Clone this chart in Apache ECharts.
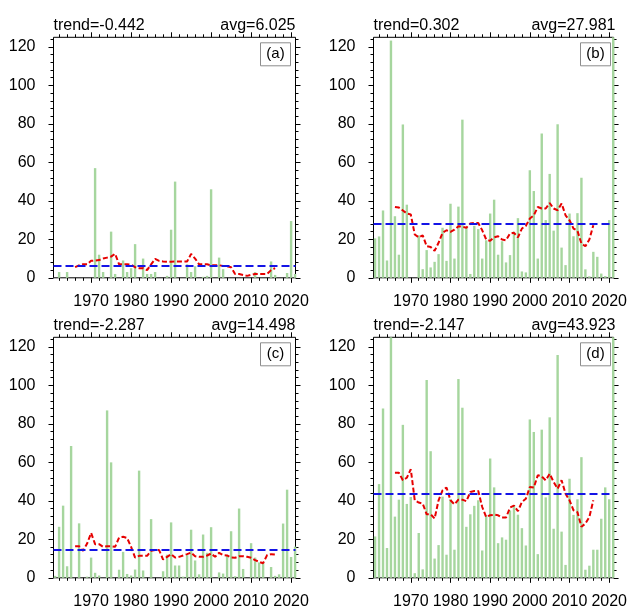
<!DOCTYPE html>
<html>
<head>
<meta charset="utf-8">
<script src="https://cdn.jsdelivr.net/npm/echarts@6/dist/echarts.min.js"></script>
<style>
  html, body { margin: 0; padding: 0; background: #fff; }
  #chart { width: 630px; height: 611px; }
</style>
</head>
<body>
<div id="chart"></div>
<script>
// Annual counts, 1961-2021, four regions (a)-(d)
const years = [
  1961, 1962, 1963, 1964, 1965, 1966, 1967, 1968, 1969, 1970,
  1971, 1972, 1973, 1974, 1975, 1976, 1977, 1978, 1979, 1980,
  1981, 1982, 1983, 1984, 1985, 1986, 1987, 1988, 1989, 1990,
  1991, 1992, 1993, 1994, 1995, 1996, 1997, 1998, 1999, 2000,
  2001, 2002, 2003, 2004, 2005, 2006, 2007, 2008, 2009, 2010,
  2011, 2012, 2013, 2014, 2015, 2016, 2017, 2018, 2019, 2020,
  2021
];

// 11-year running means are centred, so they cover 1966-2016
const runYears = [
  1966, 1967, 1968, 1969, 1970, 1971, 1972, 1973, 1974, 1975,
  1976, 1977, 1978, 1979, 1980, 1981, 1982, 1983, 1984, 1985,
  1986, 1987, 1988, 1989, 1990, 1991, 1992, 1993, 1994, 1995,
  1996, 1997, 1998, 1999, 2000, 2001, 2002, 2003, 2004, 2005,
  2006, 2007, 2008, 2009, 2010, 2011, 2012, 2013, 2014, 2015,
  2016
];

const countsA = [
  0, 3, 0, 3, 0, 0, 0, 0, 0, 0,
  57, 12, 3, 0, 24, 2, 0, 9, 3, 5,
  17.5, 0, 10, 2, 2, 3, 0, 0, 1, 25,
  50, 0, 0, 7, 3, 6, 0, 0.5, 1, 46,
  0, 10.5, 4.5, 0, 0, 0, 0, 0, 0, 0,
  3, 0, 0, 0, 8.5, 1.5, 0, 0, 2.5, 29.5,
  2
];
const runA = [
  5.5, 6.5, 7, 7, 8.8, 9, 9.2, 10, 10.5, 11,
  12.5, 7, 7, 7, 6.8, 5.5, 5, 5, 4, 7,
  9.8, 8.8, 8.5, 8.3, 8.4, 8.5, 8.5, 8.5, 8.5, 12.4,
  10, 7, 7, 7, 6.5, 6.5, 6.5, 6.2, 6, 5.5,
  2, 2, 1.5, 1, 1.5, 2, 2, 2, 2, 4,
  5
];

const countsB = [
  20.5, 21.5, 35, 9, 123.3, 32, 12, 79.7, 38, 0,
  0, 22, 4.5, 14.4, 5.4, 8.3, 12.3, 26, 8.8, 38.5,
  10, 37, 82.2, 26, 2, 27, 25.3, 10, 19.5, 33.4,
  40.6, 12, 19, 8, 11.8, 24, 31, 3.3, 2.8, 55.9,
  45.1, 10, 75, 30, 54, 24.5, 79.8, 15.7, 6.6, 33.4,
  21.6, 33.6, 52, 4.4, 0.8, 13.5, 10.9, 2.2, 0.9, 30,
  126
];
const runB = [
  36.8, 36.5, 35, 33.4, 32.9, 22.5, 21, 22.1, 16.4, 16,
  14, 18.2, 23.4, 24.7, 23.9, 25, 26.8, 26.5, 26, 28.2,
  28.5, 28.5, 24.7, 19.9, 19.2, 21, 21.6, 19.9, 19.5, 23,
  23.4, 21, 25.6, 27, 30.8, 32.5, 36.8, 36, 36, 38.9,
  36, 35.1, 38.6, 32.5, 29.9, 25.6, 24.4, 17.8, 16.4, 19.9,
  27.3
];

const countsC = [
  1, 26.5, 37.5, 6, 68.5, 0, 28.3, 0, 0.6, 10.5,
  2.6, 1.2, 0, 87, 60, 0, 4.2, 13.5, 2, 1.2,
  4.3, 55.7, 3.8, 0, 30.5, 0, 0, 3.4, 12, 28.8,
  6.4, 6.4, 0.6, 11.8, 25, 9, 1.8, 22.5, 13, 26.3,
  0, 2.8, 2.2, 11.8, 24.2, 0.8, 36, 4.6, 0, 18,
  10.5, 8, 8, 0, 5.6, 1, 1.8, 28.2, 45.8, 10.8,
  16.2
];
const runC = [
  16.4, 16.4, 14, 17.8, 23.3, 17.5, 17.5, 16.1, 16.4, 16.4,
  16.1, 20.9, 21.3, 20.7, 16.1, 10.5, 11.4, 11.4, 11.4, 14,
  14.4, 14.4, 9.5, 10.9, 12.3, 10.5, 10.9, 11.6, 12.3, 13.1,
  11.2, 10.9, 10.9, 11.6, 12.6, 10.9, 13, 11.8, 11.6, 10.5,
  10.4, 11.2, 11.2, 10.9, 10.4, 9.2, 8.3, 7.6, 11.8, 12.3,
  12.1
];

const countsD = [
  21.5, 48.7, 88, 15.5, 126, 31.8, 40.6, 79.5, 38.4, 42,
  2.4, 23.3, 4.4, 102.8, 65.8, 10, 17, 42.2, 12, 41,
  14.6, 103.3, 88.4, 26.5, 33, 37.4, 40.3, 14.2, 32.5, 62,
  47, 18, 21, 19.8, 35, 37.8, 32.8, 25.8, 16.8, 82.3,
  75.8, 12.3, 77, 41.8, 83.4, 25.5, 115.8, 24, 6.7, 51.5,
  32.7, 40.8, 62.7, 4.2, 6.3, 14.6, 14.6, 30.7, 47, 40.8,
  126
];
const runD = [
  54.6, 54.6, 50.7, 52, 56.4, 40.3, 39.1, 38.6, 33, 33,
  30.8, 40.3, 45.5, 46.9, 40.3, 38.2, 40.6, 40.6, 39.8, 44.6,
  45.1, 45.1, 36.8, 31.6, 32.5, 32.8, 32.5, 31.3, 31.3, 36.5,
  37.5, 34.6, 39.4, 41.1, 47.2, 46.9, 53.3, 52.7, 50.7, 54.1,
  49.8, 46.3, 50.7, 43.7, 40.3, 35.1, 34.1, 26.5, 28.2, 31.6,
  40.3
];

// Linear trends and long-term means shown above each panel
const panelLabels = ['(a)', '(b)', '(c)', '(d)'];
const trends = [-0.442, 0.302, -2.287, -2.147];
const averages = [6.025, 27.981, 14.498, 43.923];

// Axis tick positions
const xMajorTicks = [1970, 1980, 1990, 2000, 2010, 2020];
const xMinorTicks = [
  1962, 1964, 1966, 1968, 1972, 1974, 1976, 1978, 1982, 1984, 1986, 1988,
  1992, 1994, 1996, 1998, 2002, 2004, 2006, 2008, 2012, 2014, 2016, 2018
];
const yMajorTicks = [0, 20, 40, 60, 80, 100, 120];
const yMinorTicks = [
  4, 8, 12, 16, 24, 28, 32, 36, 44, 48, 52, 56, 64, 68, 72, 76,
  84, 88, 92, 96, 104, 108, 112, 116, 124
];

const countSeries = [countsA, countsB, countsC, countsD];
const runSeries = [runA, runB, runC, runD];

// ---- layout / style ----
const FONT = "'Liberation Sans', Arial, Helvetica, sans-serif";
const GREEN = '#a6d69e';
const RED = '#e60000';
const BLUE = '#1414e6';
const X_MIN = 1960.6, X_MAX = 2021.1;
const Y_MIN = 0, Y_MAX = 125;
const PLOT_W = 242, PLOT_H = 240.5;
const frames = [
  { left: 53.5, top: 37.3 },
  { left: 373.5, top: 37.3 },
  { left: 53.5, top: 337.3 },
  { left: 373.5, top: 337.3 }
];

const grid = [], xAxis = [], yAxis = [], series = [], title = [], graphic = [];

function tick(values, len) {
  return { show: true, customValues: values, length: len, inside: false,
           lineStyle: { color: '#000', width: 1 } };
}
const plain = v => String(Math.round(v));

frames.forEach((f, i) => {
  grid.push({ left: f.left, top: f.top, width: PLOT_W, height: PLOT_H,
              show: true, borderColor: '#000', borderWidth: 1,
              backgroundColor: 'transparent' });

  const xb = { type: 'value', gridIndex: i, min: X_MIN, max: X_MAX,
               splitLine: { show: false },
               axisLine: { show: false, onZero: false } };
  const yb = { type: 'value', gridIndex: i, min: Y_MIN, max: Y_MAX,
               splitLine: { show: false },
               axisLine: { show: false, onZero: false } };
  const xi = xAxis.length, yi = yAxis.length;

  xAxis.push(Object.assign({}, xb, {
    position: 'bottom',
    axisTick: tick(xMajorTicks, 5),
    axisLabel: { show: true, customValues: xMajorTicks, margin: 16,
                 hideOverlap: false, showMinLabel: true, showMaxLabel: true,
                 formatter: plain,
                 fontSize: 16, color: '#000', fontFamily: FONT }
  }));
  xAxis.push(Object.assign({}, xb, { position: 'bottom',
    axisTick: tick(xMinorTicks, 3), axisLabel: { show: false } }));
  xAxis.push(Object.assign({}, xb, { position: 'top',
    axisTick: tick(xMajorTicks, 5), axisLabel: { show: false } }));
  xAxis.push(Object.assign({}, xb, { position: 'top',
    axisTick: tick(xMinorTicks, 3), axisLabel: { show: false } }));

  yAxis.push(Object.assign({}, yb, {
    position: 'left',
    axisTick: tick(yMajorTicks, 5),
    axisLabel: { show: true, customValues: yMajorTicks, margin: 18,
                 showMinLabel: true, showMaxLabel: true, formatter: plain,
                 fontSize: 16, color: '#000', fontFamily: FONT }
  }));
  yAxis.push(Object.assign({}, yb, { position: 'left',
    axisTick: tick(yMinorTicks, 3), axisLabel: { show: false } }));
  yAxis.push(Object.assign({}, yb, { position: 'right',
    axisTick: tick(yMajorTicks, 5), axisLabel: { show: false } }));
  yAxis.push(Object.assign({}, yb, { position: 'right',
    axisTick: tick(yMinorTicks, 3), axisLabel: { show: false } }));

  series.push({
    type: 'bar', xAxisIndex: xi, yAxisIndex: yi,
    data: years.map((yr, k) => [yr, countSeries[i][k]]),
    barWidth: 2.4, itemStyle: { color: GREEN }, silent: true, z: 2,
    markLine: {
      silent: true, symbol: ['none', 'none'],
      label: { show: false },
      lineStyle: { color: BLUE, width: 2, type: [8, 4], opacity: 1 },
      emphasis: { disabled: true },
      data: [{ yAxis: averages[i] }]
    }
  });
  series.push({
    type: 'line', xAxisIndex: xi, yAxisIndex: yi,
    data: runYears.map((yr, k) => [yr, runSeries[i][k]]),
    symbol: 'none', silent: true, z: 4,
    lineStyle: { color: RED, width: 2, type: [5, 2.5] }
  });

  const txt = { fontSize: 16, fontWeight: 'normal', color: '#000', fontFamily: FONT };
  title.push({ text: 'trend=' + trends[i].toFixed(3), left: f.left, top: f.top - 20,
               padding: 0, textStyle: txt });
  title.push({ text: 'avg=' + averages[i].toFixed(3), right: 630 - (f.left + PLOT_W),
               top: f.top - 20, padding: 0, textStyle: txt });

  const bx = f.left + PLOT_W - 35, by = f.top + 5.5;
  graphic.push({
    type: 'group', children: [
      { type: 'rect', shape: { x: bx, y: by, width: 30, height: 23 },
        style: { fill: '#fff', stroke: '#8c8c8c', lineWidth: 1 } },
      { type: 'text', x: bx + 15, y: by + 11.5,
        style: { text: panelLabels[i], fontSize: 15, fill: '#000',
                 fontFamily: FONT, align: 'center', verticalAlign: 'middle' } }
    ]
  });
});

const chart = echarts.init(document.getElementById('chart'), null, { renderer: 'canvas' });
chart.setOption({
  animation: false,
  backgroundColor: '#fff',
  title, grid, xAxis, yAxis, series, graphic
});
</script>
</body>
</html>
